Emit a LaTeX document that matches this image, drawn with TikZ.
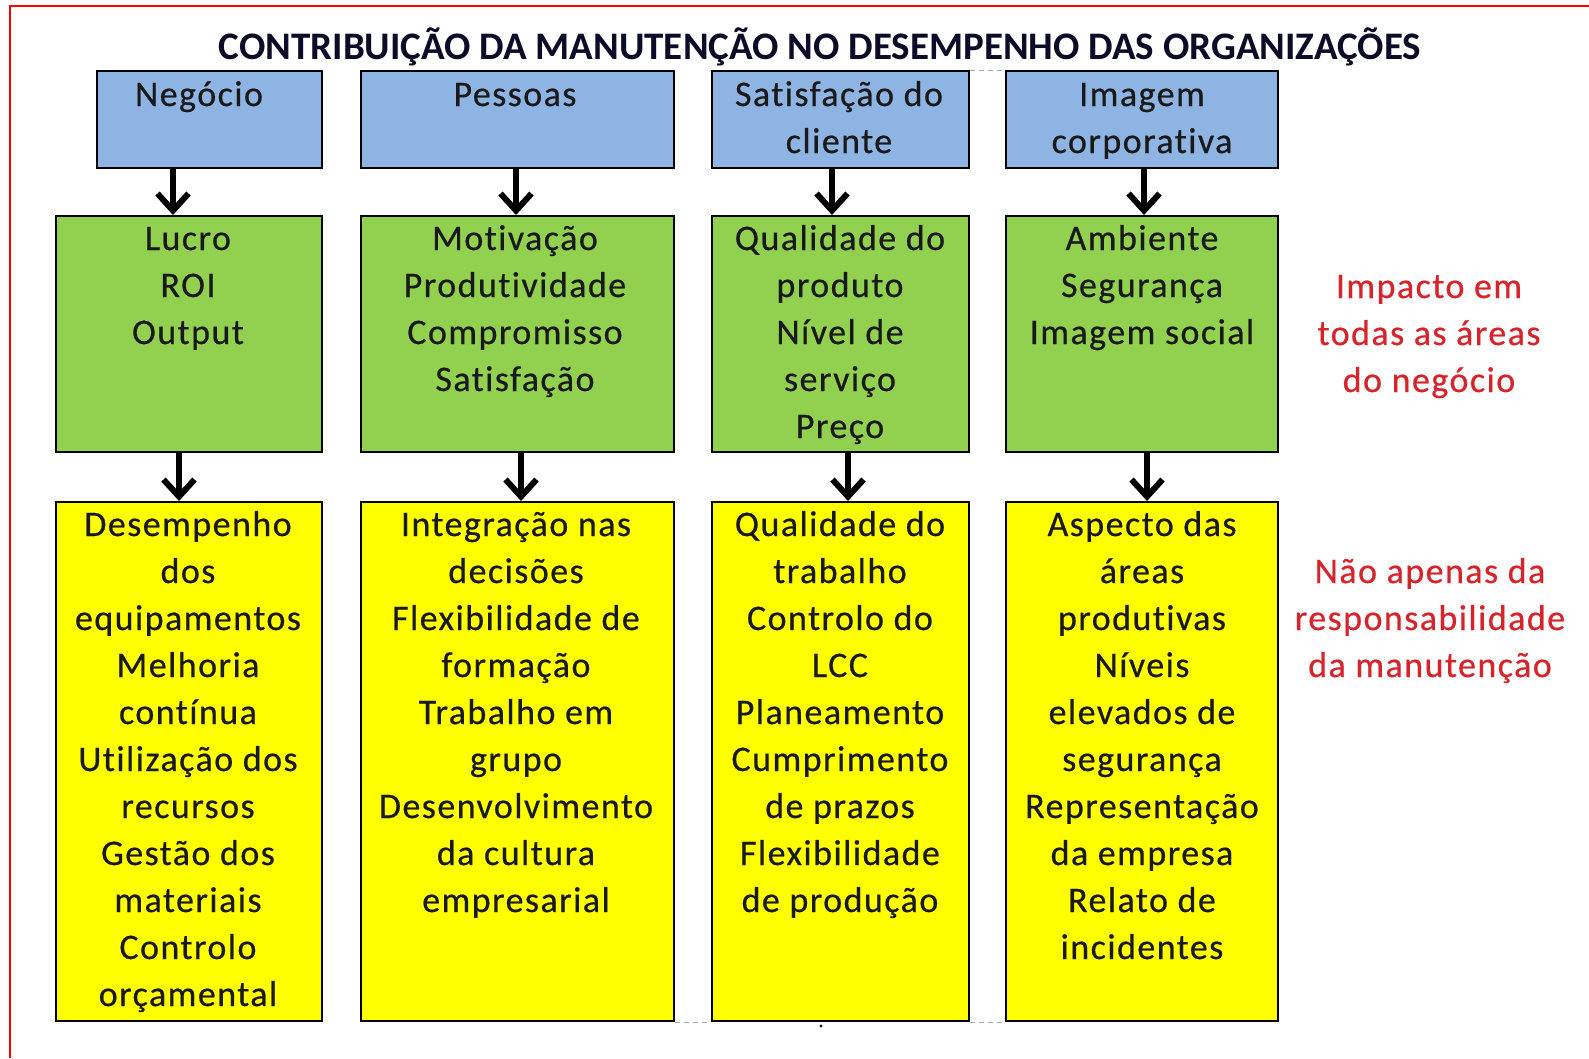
\documentclass[tikz,border=0pt]{standalone}
\usepackage{fontspec}
\setmainfont{Carlito}
\newfontfamily\bodyfont{Carlito}[LetterSpace=4, Ligatures=NoCommon, FakeBold=0.5]
\newfontfamily\titlefont{Carlito}
\usetikzlibrary{arrows.meta}
\definecolor{boxblue}{RGB}{141,180,226}
\definecolor{boxgreen}{RGB}{146,208,80}
\definecolor{boxyellow}{RGB}{255,255,0}
\definecolor{redtext}{RGB}{215,35,42}
\definecolor{darktext}{RGB}{25,25,25}
\definecolor{titlecol}{RGB}{12,12,40}
\definecolor{gridline}{RGB}{150,172,205}
\newcommand{\lns}[1]{\parbox[t]{420pt}{\centering #1}}
\begin{document}
\begin{tikzpicture}[x=1pt,y=-1pt,
  boxbase/.style={draw=black, line width=2.4pt, rectangle, anchor=north west, inner sep=0pt},
  bluebox/.style={boxbase, fill=boxblue, minimum height=97pt},
  greenbox/.style={boxbase, fill=boxgreen, minimum height=236pt},
  yellowbox/.style={boxbase, fill=boxyellow, minimum height=519pt},
  txt/.style={inner sep=0pt, anchor=base, text=darktext, font={\bodyfont\fontsize{36}{47}\selectfont}},
  redtxt/.style={txt, text=redtext},
  titletxt/.style={inner sep=0pt, anchor=base, text=titlecol, font={\titlefont\bfseries\fontsize{39}{46}\selectfont}},
  arr/.style={line width=6pt, -{Straight Barb[length=17pt,width=31pt]}},
  gridln/.style={gridline, line width=1pt, dash pattern=on 5pt off 4pt}
]
\useasboundingbox (0,0) rectangle (1589,1058);
\fill[white] (0,0) rectangle (1589,1058);
% red frame
\draw[red, line width=2pt] (1589,6) -- (10,6) -- (10,1058);

% title
\node[titletxt] (title) at (820,59) {CONTRIBUIÇÃO DA MANUTENÇÃO NO DESEMPENHO DAS ORGANIZAÇÕES};

% blue row
\node[bluebox, minimum width=225pt] (b1) at (96,70) {};
\node[bluebox, minimum width=313pt] (b2) at (360,70) {};
\node[bluebox, minimum width=257pt] (b3) at (711,70) {};
\node[bluebox, minimum width=272pt] (b4) at (1005,70) {};
% green row
\node[greenbox, minimum width=266pt] (g1) at (55,215) {};
\node[greenbox, minimum width=313pt] (g2) at (360,215) {};
\node[greenbox, minimum width=257pt] (g3) at (711,215) {};
\node[greenbox, minimum width=272pt] (g4) at (1005,215) {};
% yellow row
\node[yellowbox, minimum width=266pt] (y1) at (55,501) {};
\node[yellowbox, minimum width=313pt] (y2) at (360,501) {};
\node[yellowbox, minimum width=257pt] (y3) at (711,501) {};
\node[yellowbox, minimum width=272pt] (y4) at (1005,501) {};

% faint grid artefacts
\draw[gridln] (b3.north east) -- (b4.north west);
\draw[gridln] (y2.south east) -- (y3.south west);
\draw[gridln] (y3.south east) -- (y4.south west);
\fill[darktext] (821,1026) circle (1.6pt);

% texts blue
\node[txt] (tb1) at (199,106) {\lns{Negócio}};
\node[txt] (tb2) at (515,106) {\lns{Pessoas}};
\node[txt] (tb3) at (839,106) {\lns{Satisfação do\\cliente}};
\node[txt] (tb4) at (1142,106) {\lns{Imagem\\corporativa}};
% texts green
\node[txt] (tg1) at (188,250) {\lns{Lucro\\ROI\\Output}};
\node[txt] (tg2) at (515,250) {\lns{Motivação\\Produtividade\\Compromisso\\Satisfação}};
\node[txt] (tg3) at (840,250) {\lns{Qualidade do\\produto\\Nível de\\serviço\\Preço}};
\node[txt] (tg4) at (1142,250) {\lns{Ambiente\\Segurança\\Imagem social}};
% texts yellow
\node[txt] (ty1) at (188,536) {\lns{Desempenho\\dos\\equipamentos\\Melhoria\\contínua\\Utilização dos\\recursos\\Gestão dos\\materiais\\Controlo\\orçamental}};
\node[txt] (ty2) at (516,536) {\lns{Integração nas\\decisões\\Flexibilidade de\\formação\\Trabalho em\\grupo\\Desenvolvimento\\da cultura\\empresarial}};
\node[txt] (ty3) at (840,536) {\lns{Qualidade do\\trabalho\\Controlo do\\LCC\\Planeamento\\Cumprimento\\de prazos\\Flexibilidade\\de produção}};
\node[txt] (ty4) at (1142,536) {\lns{Aspecto das\\áreas\\produtivas\\Níveis\\elevados de\\segurança\\Representação\\da empresa\\Relato de\\incidentes}};
% red side notes
\node[redtxt] (r1) at (1429,298) {\lns{Impacto em\\todas as áreas\\do negócio}};
\node[redtxt] (r2) at (1430,583) {\lns{Não apenas da\\responsabilidade\\da manutenção}};

% arrows
\coordinate (a1) at (173,0);
\coordinate (a2) at (516,0);
\coordinate (a3) at (832,0);
\coordinate (a4) at (1144,0);
\coordinate (c1) at (179,0);
\coordinate (c2) at (521,0);
\coordinate (c3) at (848,0);
\coordinate (c4) at (1147,0);
\draw[arr] (b1.south -| a1) -- (g1.north -| a1);
\draw[arr] (b2.south -| a2) -- (g2.north -| a2);
\draw[arr] (b3.south -| a3) -- (g3.north -| a3);
\draw[arr] (b4.south -| a4) -- (g4.north -| a4);
\draw[arr] (g1.south -| c1) -- (y1.north -| c1);
\draw[arr] (g2.south -| c2) -- (y2.north -| c2);
\draw[arr] (g3.south -| c3) -- (y3.north -| c3);
\draw[arr] (g4.south -| c4) -- (y4.north -| c4);
\end{tikzpicture}
\end{document}
